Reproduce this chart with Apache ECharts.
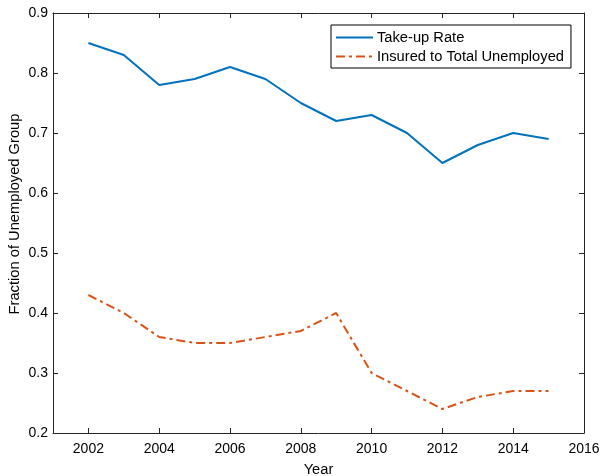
<!DOCTYPE html>
<html><head><meta charset="utf-8">
<script src="https://cdn.jsdelivr.net/npm/echarts@6/dist/echarts.min.js"></script>
<style>html,body{margin:0;padding:0;background:#fff}#c{width:601px;height:476px}</style>
</head><body><div id="c"></div>
<script>
const years = [2002,2003,2004,2005,2006,2007,2008,2009,2010,2011,2012,2013,2014,2015];
const takeUp = [0.85,0.83,0.78,0.79,0.81,0.79,0.75,0.72,0.73,0.70,0.65,0.68,0.70,0.69];
const insured = [0.43,0.40,0.36,0.35,0.35,0.36,0.37,0.40,0.30,0.27,0.24,0.26,0.27,0.27];
const xTicks = [2002,2004,2006,2008,2010,2012,2014,2016];
const font = 'Liberation Sans, Arial, sans-serif';
const axisCol = '#262626';
const chart = echarts.init(document.getElementById('c'));
const pair = (xs, ys) => xs.map((x,i)=>[x, ys[i]]);
chart.setOption({
  animation:false,
  grid:{left:53,right:17,top:13,bottom:43,outerBoundsMode:'none',containLabel:false},
  legend:{
    left:331, top:25, orient:'vertical', itemWidth:37, itemHeight:14, itemGap:4,
    padding:[5,7,4,4], borderColor:'#000', borderWidth:1, backgroundColor:'#fff',
    itemStyle:{opacity:0},
    textStyle:{fontFamily:font,fontSize:14.7,color:'#000',padding:[0,0,0,-1]},
    data:['Take-up Rate','Insured to Total Unemployed']
  },
  xAxis:[{
    type:'value', min:2001, max:2016, name:'Year', nameLocation:'middle', nameGap:29,
    nameMoveOverlap:false,
    nameTextStyle:{fontFamily:font,fontSize:14.7,color:'#000'},
    axisLine:{lineStyle:{color:axisCol}},
    axisTick:{inside:true,length:5,customValues:xTicks,lineStyle:{color:axisCol}},
    axisLabel:{customValues:xTicks,fontFamily:font,fontSize:14,color:'#000',margin:9,formatter:v=>String(v)},
    splitLine:{show:false}
  },{
    type:'value', min:2001, max:2016, position:'top',
    axisLine:{lineStyle:{color:axisCol}},
    axisTick:{inside:true,length:5,customValues:xTicks,lineStyle:{color:axisCol}},
    axisLabel:{show:false}, splitLine:{show:false}
  }],
  yAxis:[{
    type:'value', min:0.2, max:0.9, interval:0.1, name:'Fraction of Unemployed Group',
    nameLocation:'middle', nameGap:31, nameMoveOverlap:false,
    nameTextStyle:{fontFamily:font,fontSize:14.7,color:'#000',padding:[0,0,0,18]},
    axisLine:{show:true,lineStyle:{color:axisCol}},
    axisTick:{show:true,inside:true,length:5,lineStyle:{color:axisCol}},
    axisLabel:{fontFamily:font,fontSize:14,color:'#000',margin:5,formatter:v=>v.toFixed(1)},
    splitLine:{show:false}
  },{
    type:'value', min:0.2, max:0.9, interval:0.1, position:'right',
    axisLine:{show:true,lineStyle:{color:axisCol}},
    axisTick:{show:true,inside:true,length:5,lineStyle:{color:axisCol}},
    axisLabel:{show:false}, splitLine:{show:false}
  }],
  series:[{
    name:'Take-up Rate', type:'line', data:pair(years,takeUp), symbol:'none',
    lineStyle:{color:'#0072BD',width:2}, itemStyle:{color:'#0072BD'}
  },{
    name:'Insured to Total Unemployed', type:'line', data:pair(years,insured), symbol:'none',
    lineStyle:{color:'#D95319',width:2,type:[9,4,3,4]}, itemStyle:{color:'#D95319'}
  }]
});
</script></body></html>
